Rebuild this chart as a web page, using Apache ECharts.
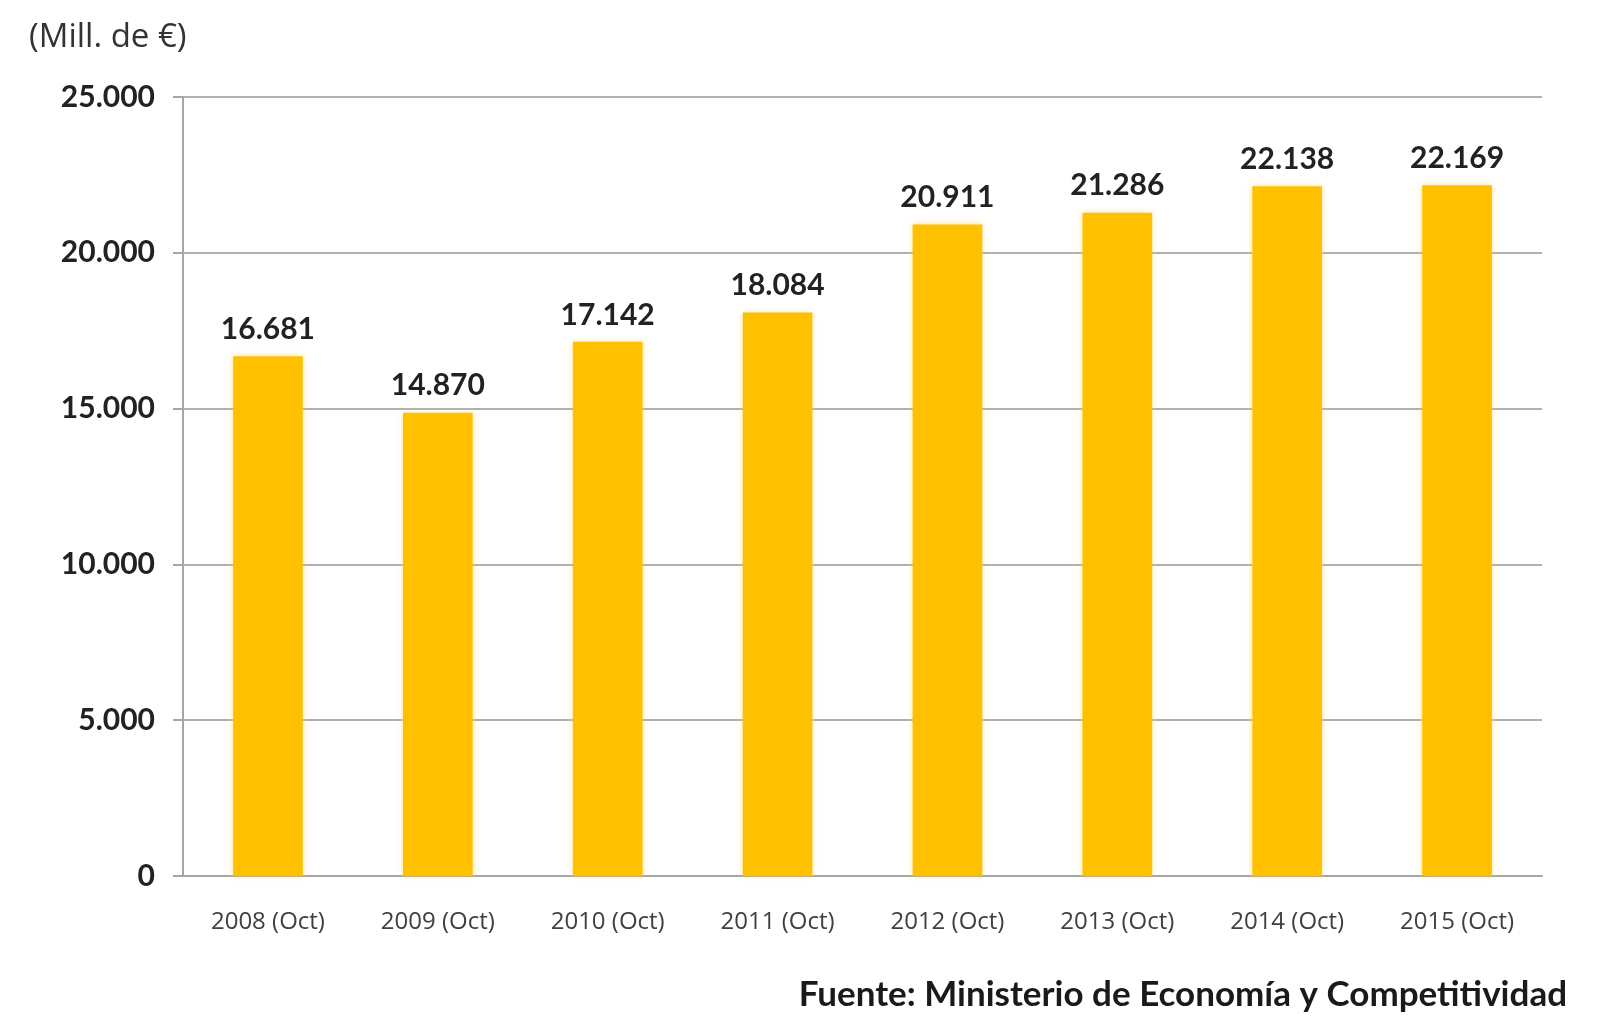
<!DOCTYPE html>
<html>
<head>
<meta charset="utf-8">
<script src="https://cdn.jsdelivr.net/npm/echarts@6/dist/echarts.min.js"></script>
<style>
  html, body { margin: 0; padding: 0; background: #fff; }
  #chart { width: 1600px; height: 1029px; }
</style>
</head>
<body>
<div id="chart"></div>
<script>
// categories and values (millions of euros)
var years = ['2008 (Oct)', '2009 (Oct)', '2010 (Oct)', '2011 (Oct)', '2012 (Oct)', '2013 (Oct)', '2014 (Oct)', '2015 (Oct)'];
var amounts = [16681, 14870, 17142, 18084, 20911, 21286, 22138, 22169];
var yTicks = [0, 5000, 10000, 15000, 20000, 25000];

// 16681 -> "16.681"
function fmt(v) {
  return String(v).replace(/\B(?=(\d{3})+(?!\d))/g, '.');
}

var myChart = echarts.init(document.getElementById('chart'));
var option = {
  backgroundColor: '#ffffff',
  textStyle: { fontFamily: 'Lato, "Open Sans", sans-serif' },
  title: [
    {
      text: '(Mill. de €)',
      left: 24,
      top: 16,
      textStyle: { fontSize: 33, fontWeight: 'normal', color: '#333333', fontFamily: '"Open Sans", sans-serif' }
    },
    {
      text: 'Fuente: Ministerio de Economía y Competitividad',
      right: 28,
      top: 972,
      textStyle: { fontSize: 35, fontWeight: 'bold', color: '#1a1a1a', fontFamily: 'Lato, sans-serif' }
    }
  ],
  grid: {
    left: 183,
    right: 58,
    top: 97,
    bottom: 153
  },
  xAxis: {
    type: 'category',
    data: years,
    axisLine: { lineStyle: { color: '#a6a6a6', width: 2 } },
    axisTick: { show: false },
    axisLabel: { fontSize: 24, color: '#404040', margin: 34, fontFamily: '"Open Sans", sans-serif' }
  },
  yAxis: {
    type: 'value',
    min: 0,
    max: yTicks[yTicks.length - 1],
    interval: yTicks[1] - yTicks[0],
    axisLine: { show: true, lineStyle: { color: '#a6a6a6', width: 2 } },
    axisTick: { show: true, length: 10, lineStyle: { color: '#a6a6a6', width: 2 } },
    splitLine: { lineStyle: { color: '#b0b0b0', width: 2 } },
    axisLabel: {
      fontSize: 30,
      fontWeight: 'bold',
      color: '#222222',
      margin: 28,
      formatter: function (v) { return fmt(v); }
    }
  },
  series: [
    {
      type: 'bar',
      data: amounts,
      barWidth: '41%',
      itemStyle: {
        color: '#ffc000',
        shadowColor: 'rgba(255, 210, 80, 0.6)',
        shadowBlur: 6
      },
      label: {
        show: true,
        position: 'top',
        distance: 12,
        fontSize: 30,
        fontWeight: 'bold',
        color: '#222222',
        formatter: function (p) { return fmt(p.value); }
      }
    }
  ]
};

option && myChart.setOption(option);
</script>
</body>
</html>
